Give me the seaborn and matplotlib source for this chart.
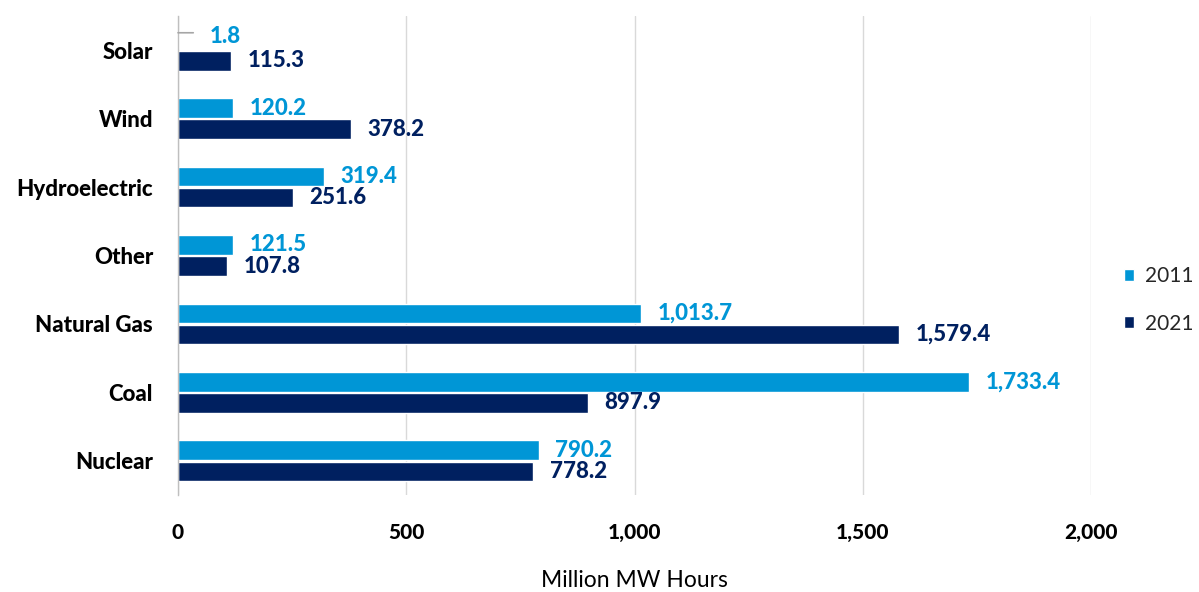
import matplotlib
matplotlib.use("Agg")
import matplotlib.pyplot as plt
import seaborn as sns
import pandas as pd
import numpy as np
from matplotlib.ticker import FuncFormatter, FixedLocator

categories = ["Solar", "Wind", "Hydroelectric", "Other", "Natural Gas", "Coal", "Nuclear"]
years = ["2011", "2021"]
values_2011 = [1.8, 120.2, 319.4, 121.5, 1013.7, 1733.4, 790.2]
values_2021 = [115.3, 378.2, 251.6, 107.8, 1579.4, 897.9, 778.2]
x_ticks = [0, 500, 1000, 1500, 2000]
x_label = "Million MW Hours"

colors = {"2011": "#0096D6", "2021": "#002060"}

df = pd.DataFrame({
    "Source": categories * 2,
    "Year": ["2011"] * len(categories) + ["2021"] * len(categories),
    "Value": values_2011 + values_2021,
})

sns.set_theme(style="white")
plt.rcParams["font.family"] = ["Lato", "DejaVu Sans"]

fig = plt.figure(figsize=(11.99, 5.92), dpi=100)
ax = fig.add_axes([178 / 1199, 1 - 495 / 592, (1091 - 178) / 1199, (495 - 16) / 592])

sns.barplot(data=df, y="Source", x="Value", hue="Year", order=categories,
            hue_order=years, palette=colors, orient="h", width=0.62, gap=0.08,
            saturation=1, ax=ax, legend=True)

ax.set_xlim(0, 2000)
ax.xaxis.set_major_locator(FixedLocator(x_ticks))
ax.xaxis.set_major_formatter(FuncFormatter(lambda v, p: f"{int(v):,}"))
ax.grid(axis="x", color="#D9D9D9", linewidth=1)
ax.set_axisbelow(True)
for s in ["top", "right", "bottom"]:
    ax.spines[s].set_visible(False)
ax.spines["left"].set_color("#BFBFBF")
ax.spines["left"].set_linewidth(1)

ax.tick_params(axis="x", length=0, pad=20, labelsize=15)
ax.tick_params(axis="y", which="major", length=0, pad=18, labelsize=16)
ax.set_yticks(np.arange(-0.5, len(categories), 1.0), minor=True)
ax.tick_params(axis="y", which="minor", length=8, color="#BFBFBF", width=1, direction="out")
ax.set_ylim(len(categories) - 0.5, -0.5)
for lbl in ax.get_xticklabels() + ax.get_yticklabels():
    lbl.set_fontweight("black")
    lbl.set_color("black")

ax.set_ylabel("")
ax.set_xlabel(x_label, fontsize=16.5, labelpad=20, color="black")

# data labels
for cont, yr in zip(ax.containers, years):
    labels = [f"{r.get_width():,.1f}" for r in cont]
    texts = ax.bar_label(cont, labels=labels, padding=12, color=colors[yr],
                         fontsize=16, fontweight="black")
    if yr == "2011":
        texts[0].xyann = (22, 2)

# leader line for the tiny solar 2011 bar
r = ax.containers[0][0]
yc = r.get_y() + r.get_height() / 2
ax.annotate("", xy=(0, yc - 0.1), xytext=(11, 0), textcoords="offset points",
            arrowprops=dict(arrowstyle="-", color="#A6A6A6", lw=1.2, shrinkA=0, shrinkB=0))

leg = ax.legend(loc="center left", bbox_to_anchor=(1124 / 1199, 1 - 300 / 592),
                bbox_transform=fig.transFigure, frameon=False, fontsize=15,
                handlelength=0.5, handleheight=0.5, handletextpad=0.5,
                labelspacing=1.3, borderaxespad=0, borderpad=0)

fig.savefig("out.png", dpi=100)
